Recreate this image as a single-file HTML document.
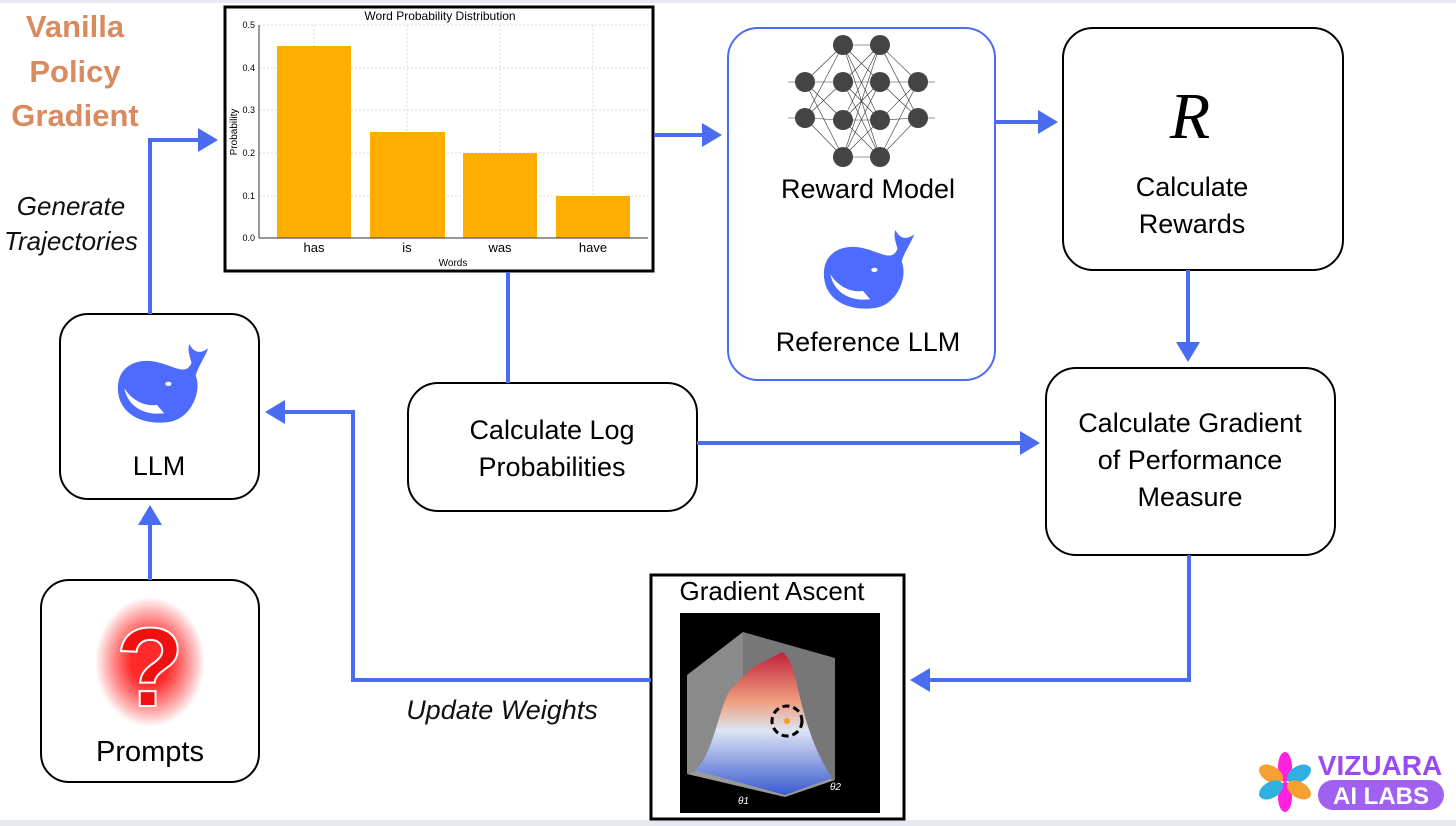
<!DOCTYPE html><html><head><meta charset="utf-8"><style>body{margin:0;background:#fff}svg{display:block}text{font-family:"Liberation Sans",sans-serif}</style></head><body>
<svg width="1456" height="826" viewBox="0 0 1456 826" xmlns="http://www.w3.org/2000/svg">
<defs>
<marker id="a" markerWidth="6" markerHeight="6" refX="4" refY="3" orient="auto" markerUnits="strokeWidth"><path d="M0,0 L5,3 L0,6 Z" fill="#4a6cf0"/></marker>
<linearGradient id="surf" x1="0" y1="0" x2="0" y2="1"><stop offset="0" stop-color="#c0203a"/><stop offset=".35" stop-color="#f0a080"/><stop offset=".55" stop-color="#dde4f4"/><stop offset="1" stop-color="#3a5ad0"/></linearGradient>
<radialGradient id="glow"><stop offset=".35" stop-color="#ff2020" stop-opacity=".95"/><stop offset="1" stop-color="#ff0000" stop-opacity="0"/></radialGradient>
<g id="whale"><path d="M-40,5 C-42,-20 -20,-28 0,-22 C15,-18 25,-10 30,-22 C28,-30 26,-34 28,-40 C32,-32 38,-30 46,-36 C42,-26 36,-18 34,-10 C40,5 30,30 10,34 C-15,38 -38,28 -40,5Z" fill="#4d6bfe"/><path d="M-34,2 C-30,22 -12,28 4,26 L-3,18 C-16,20 -28,12 -34,2Z" fill="#fff"/><ellipse cx="8" cy="-2" rx="3" ry="2" fill="#fff"/></g>
</defs>
<rect x="0" y="0" width="1456" height="3" fill="#e6e9ee"/>
<rect x="0" y="820" width="1456" height="6" fill="#e6e9ee"/>
<g fill="#d98b5f" font-weight="bold" font-size="31" text-anchor="middle"><text x="75" y="37">Vanilla</text><text x="75" y="82">Policy</text><text x="75" y="126">Gradient</text></g>
<g font-style="italic" font-size="26" text-anchor="middle" fill="#111"><text x="71" y="215">Generate</text><text x="71" y="250">Trajectories</text><text x="502" y="719" font-size="27">Update Weights</text></g>
<rect x="225" y="7" width="428" height="264" fill="#fff" stroke="#000" stroke-width="3"/>
<text x="440" y="20" font-size="12" text-anchor="middle">Word Probability Distribution</text>
<g stroke="#ddd" stroke-width="1" stroke-dasharray="2,2"><line x1="259" y1="25" x2="648" y2="25"/><line x1="259" y1="68" x2="648" y2="68"/><line x1="259" y1="110" x2="648" y2="110"/><line x1="259" y1="153" x2="648" y2="153"/><line x1="259" y1="196" x2="648" y2="196"/><line x1="314" y1="25" x2="314" y2="238"/><line x1="407" y1="25" x2="407" y2="238"/><line x1="500" y1="25" x2="500" y2="238"/><line x1="593" y1="25" x2="593" y2="238"/></g>
<g fill="#ffad00"><rect x="277" y="46" width="74" height="192"/><rect x="370" y="132" width="75" height="106"/><rect x="463" y="153" width="74" height="85"/><rect x="556" y="196" width="74" height="42"/></g>
<line x1="259" y1="25" x2="259" y2="238" stroke="#333"/><line x1="259" y1="238" x2="648" y2="238" stroke="#333"/>
<g font-size="9" text-anchor="end"><text x="255" y="28">0.5</text><text x="255" y="71">0.4</text><text x="255" y="113">0.3</text><text x="255" y="156">0.2</text><text x="255" y="199">0.1</text><text x="255" y="241">0.0</text></g>
<g font-size="13" text-anchor="middle"><text x="314" y="252">has</text><text x="407" y="252">is</text><text x="500" y="252">was</text><text x="593" y="252">have</text></g>
<text x="453" y="266" font-size="10" text-anchor="middle">Words</text>
<text transform="translate(237,132) rotate(-90)" font-size="10" text-anchor="middle">Probability</text>
<rect x="728" y="28" width="267" height="352" rx="30" fill="#fff" stroke="#4a6cf0" stroke-width="2"/>
<g stroke="#333" stroke-width=".6">
<path d="M805,82 L843,45 M805,82 L843,82 M805,82 L843,120 M805,82 L843,157 M805,118 L843,45 M805,118 L843,82 M805,118 L843,120 M805,118 L843,157 M843,45 L880,45 M843,45 L880,82 M843,45 L880,120 M843,45 L880,157 M843,82 L880,45 M843,82 L880,82 M843,82 L880,120 M843,82 L880,157 M843,120 L880,45 M843,120 L880,82 M843,120 L880,120 M843,120 L880,157 M843,157 L880,45 M843,157 L880,82 M843,157 L880,120 M843,157 L880,157 M880,45 L918,82 M880,82 L918,82 M880,120 L918,82 M880,157 L918,82 M880,45 L918,118 M880,82 L918,118 M880,120 L918,118 M880,157 L918,118 M788,82 L805,82 M788,118 L805,118 M918,82 L935,82 M918,118 L935,118"/></g>
<g fill="#444"><circle cx="805" cy="82" r="10"/><circle cx="805" cy="118" r="10"/><circle cx="843" cy="45" r="10"/><circle cx="843" cy="82" r="10"/><circle cx="843" cy="120" r="10"/><circle cx="843" cy="157" r="10"/><circle cx="880" cy="45" r="10"/><circle cx="880" cy="82" r="10"/><circle cx="880" cy="120" r="10"/><circle cx="880" cy="157" r="10"/><circle cx="918" cy="82" r="10"/><circle cx="918" cy="118" r="10"/></g>
<text x="868" y="198" font-size="27" text-anchor="middle">Reward Model</text>
<use href="#whale" transform="translate(866,272) scale(1.05)"/>
<text x="868" y="351" font-size="27" text-anchor="middle">Reference LLM</text>
<rect x="1063" y="28" width="280" height="242" rx="30" fill="#fff" stroke="#000" stroke-width="2"/>
<text x="1190" y="138" font-size="66" font-style="italic" style="font-family:'Liberation Serif',serif" text-anchor="middle">R</text>
<g font-size="27" text-anchor="middle"><text x="1192" y="196">Calculate</text><text x="1192" y="233">Rewards</text></g>
<rect x="1046" y="368" width="289" height="187" rx="30" fill="#fff" stroke="#000" stroke-width="2"/>
<g font-size="27" text-anchor="middle"><text x="1190" y="432">Calculate Gradient</text><text x="1190" y="469">of  Performance</text><text x="1190" y="506">Measure</text></g>
<rect x="408" y="383" width="289" height="128" rx="30" fill="#fff" stroke="#000" stroke-width="2"/>
<g font-size="27" text-anchor="middle"><text x="552" y="439">Calculate Log</text><text x="552" y="476">Probabilities</text></g>
<rect x="60" y="314" width="199" height="185" rx="28" fill="#fff" stroke="#000" stroke-width="2"/>
<use href="#whale" transform="translate(160,386) scale(1.05)"/>
<text x="159" y="475" font-size="27" text-anchor="middle">LLM</text>
<rect x="41" y="580" width="218" height="202" rx="28" fill="#fff" stroke="#000" stroke-width="2"/>
<ellipse cx="150" cy="662" rx="55" ry="65" fill="url(#glow)"/>
<text x="150" y="706" font-size="112" font-weight="bold" text-anchor="middle" fill="#f01010" stroke="#fff" stroke-width="2">?</text>
<text x="150" y="761" font-size="29" text-anchor="middle">Prompts</text>
<rect x="651" y="575" width="253" height="244" fill="#fff" stroke="#000" stroke-width="3"/>
<text x="772" y="600" font-size="26" text-anchor="middle">Gradient Ascent</text>
<rect x="680" y="613" width="200" height="200" fill="#000"/>
<polygon points="687,774 743,751 743,632 687,675" fill="#8a8a8a"/>
<polygon points="743,632 835,658 835,780 743,751" fill="#777"/>
<polygon points="687,774 743,751 835,780 785,797" fill="#9a9a9a"/>
<path d="M694,770 C712,760 718,710 730,690 L752,668 L782,652 C800,662 795,720 832,778 L785,795 Z" fill="url(#surf)"/>
<circle cx="787" cy="721" r="15" fill="none" stroke="#000" stroke-width="3" stroke-dasharray="7,4"/>
<circle cx="787" cy="721" r="3" fill="#f5a020"/>
<text x="738" y="804" fill="#fff" font-size="10" font-style="italic">θ1</text><text x="830" y="790" fill="#fff" font-size="10" font-style="italic">θ2</text>
<g stroke="#4a6cf0" stroke-width="4" fill="none">
<polyline points="150,314 150,140 214,140" marker-end="url(#a)"/>
<line x1="654" y1="135" x2="718" y2="135" marker-end="url(#a)"/>
<line x1="995" y1="122" x2="1054" y2="122" marker-end="url(#a)"/>
<line x1="1188" y1="270" x2="1188" y2="358" marker-end="url(#a)"/>
<line x1="508" y1="272" x2="508" y2="383"/>
<line x1="697" y1="443" x2="1036" y2="443" marker-end="url(#a)"/>
<polyline points="1189,555 1189,680 914,680" marker-end="url(#a)"/>
<polyline points="651,680 353,680 353,412 269,412" marker-end="url(#a)"/>
<line x1="150" y1="580" x2="150" y2="509" marker-end="url(#a)"/>
</g>
<g transform="translate(1285,782)"><ellipse cx="0" cy="-15" rx="7" ry="15" fill="#ff20e0"/><ellipse cx="0" cy="15" rx="7" ry="15" fill="#ff20e0"/><ellipse cx="-14" cy="-8" rx="13" ry="8" fill="#f5a030" transform="rotate(30 -14 -8)"/><ellipse cx="14" cy="-8" rx="13" ry="8" fill="#30b0e0" transform="rotate(-30 14 -8)"/><ellipse cx="-14" cy="8" rx="13" ry="8" fill="#30b0e0" transform="rotate(-30 -14 8)"/><ellipse cx="14" cy="8" rx="13" ry="8" fill="#f5a030" transform="rotate(30 14 8)"/></g>
<text x="1380" y="775" font-size="28" font-weight="bold" fill="#9a4af0" text-anchor="middle">VIZUARA</text>
<rect x="1318" y="780" width="126" height="30" rx="15" fill="#a060f0"/>
<text x="1381" y="804" font-size="24" font-weight="bold" fill="#fff" text-anchor="middle">AI LABS</text>
</svg></body></html>
